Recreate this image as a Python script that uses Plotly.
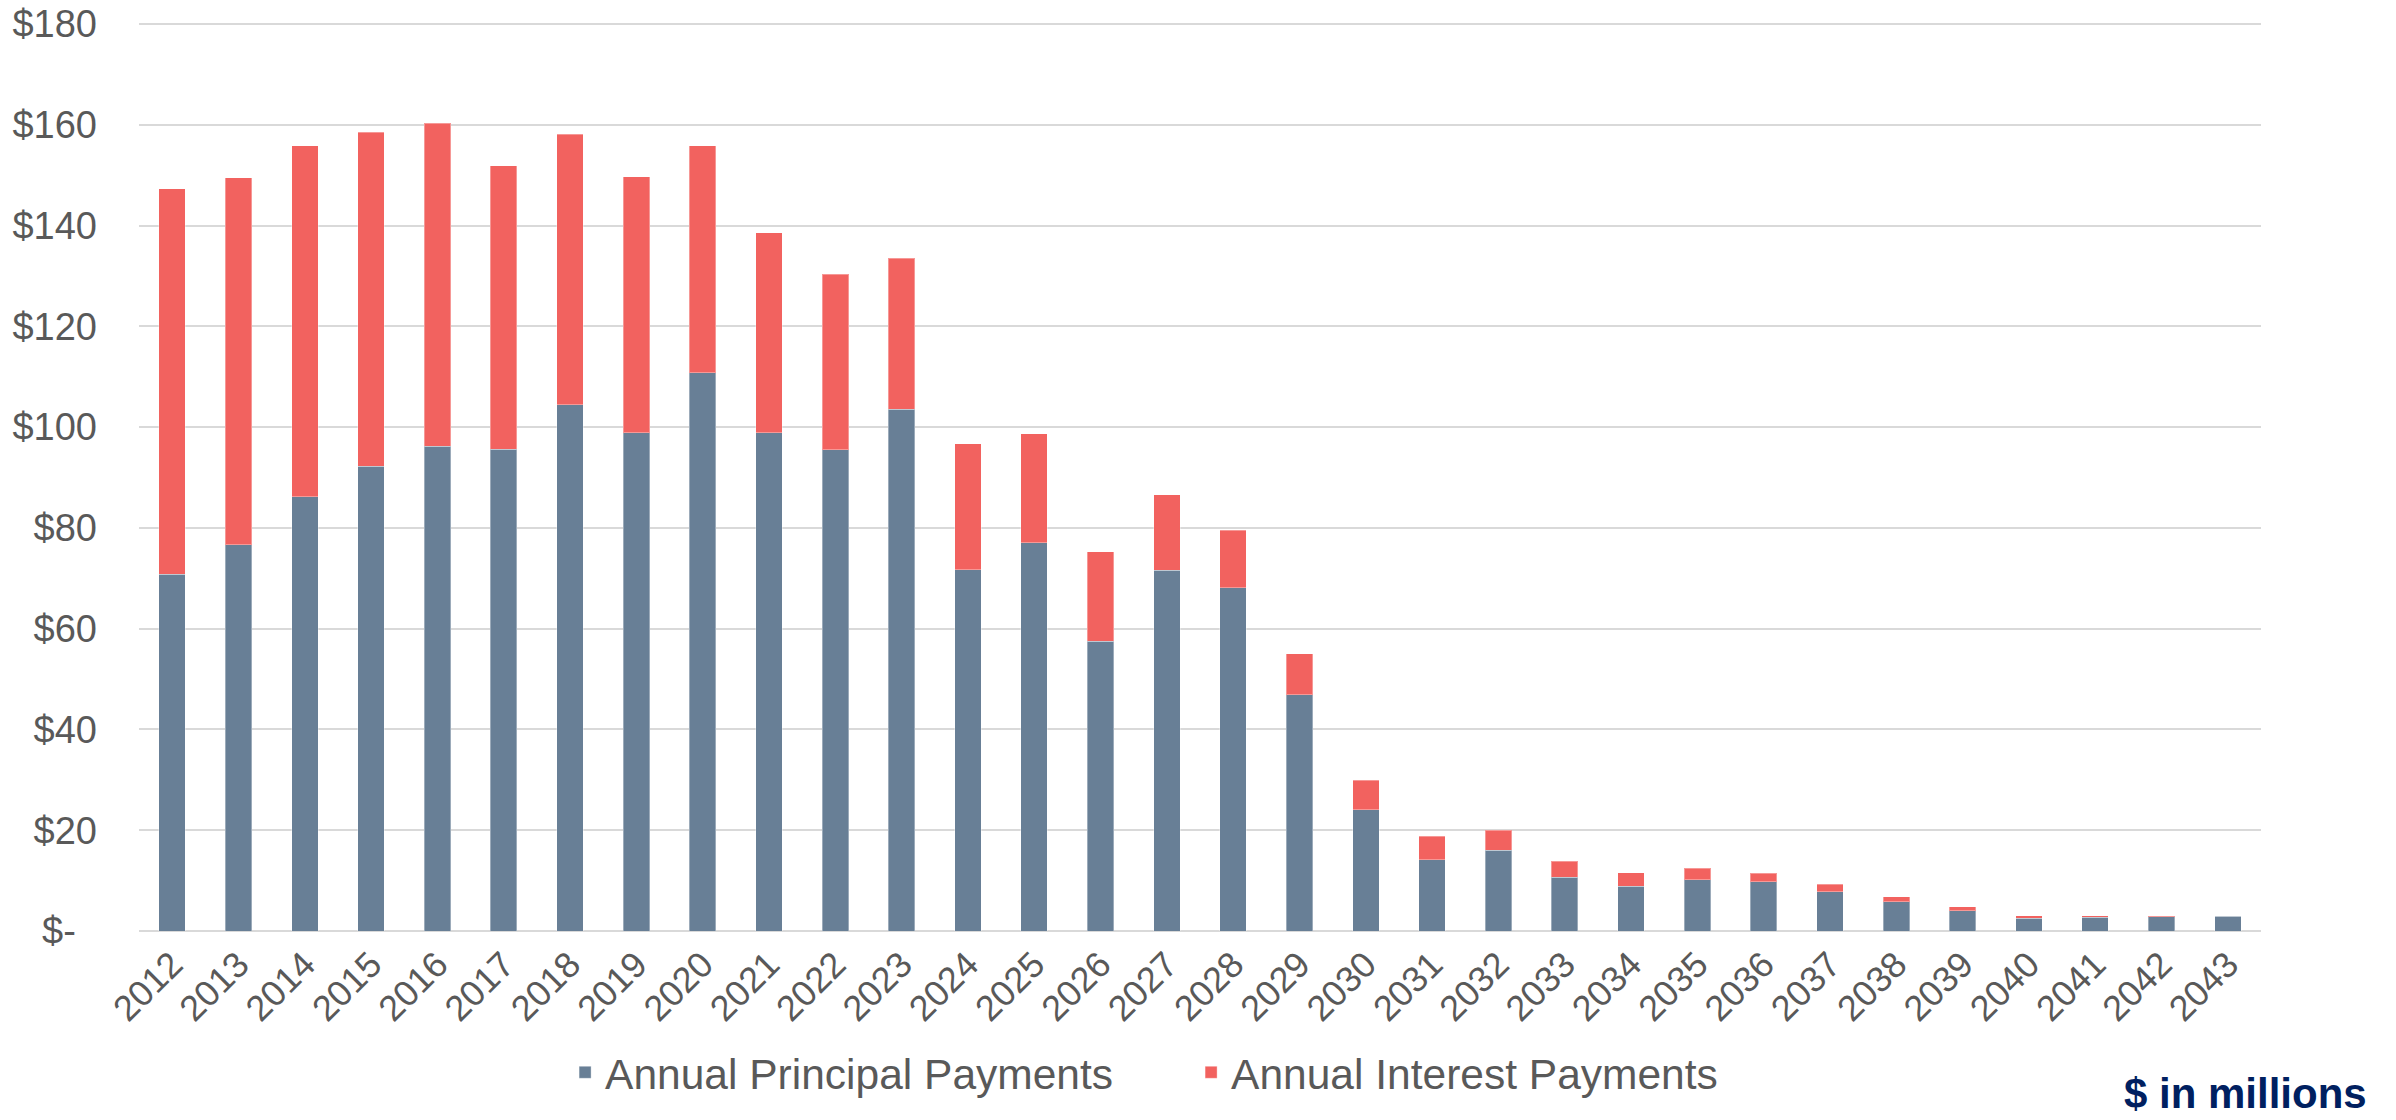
import plotly.graph_objects as go

years = [str(y) for y in range(2012, 2044)]
principal = [70.8, 76.7, 86.2, 92.2, 96.2, 95.6, 104.4, 98.9, 110.8, 98.9,
             95.5, 103.5, 71.7, 77.1, 57.5, 71.6, 68.1, 46.9, 24.1, 14.1,
             16.0, 10.7, 8.9, 10.2, 9.8, 7.8, 5.8, 4.0, 2.5, 2.7, 2.85, 2.9]
interest = [76.5, 72.8, 69.6, 66.3, 64.1, 56.3, 53.7, 50.8, 45.0, 39.7,
            34.8, 30.0, 25.0, 21.6, 17.8, 15.0, 11.4, 8.1, 5.8, 4.7,
            4.0, 3.1, 2.7, 2.3, 1.7, 1.5, 1.0, 0.8, 0.5, 0.3, 0.15, 0.1]
y_tickvals = [0, 20, 40, 60, 80, 100, 120, 140, 160, 180]
y_ticktext = ["$-\u00a0\u00a0", "$20", "$40", "$60", "$80", "$100", "$120", "$140", "$160", "$180"]

FONT = "Liberation Sans, Arial, sans-serif"
GRAY = "#595959"

fig = go.Figure()
fig.add_trace(go.Bar(
    x=years, y=principal, name="Annual Principal Payments",
    marker=dict(color="#687F96", line=dict(width=1, color="rgba(255,255,255,0.35)")),
))
fig.add_trace(go.Bar(
    x=years, y=interest, name="Annual Interest Payments",
    marker=dict(color="#F2625F", line=dict(width=1, color="rgba(255,255,255,0.35)")),
))

fig.update_layout(
    width=2396, height=1120,
    margin=dict(l=139, r=135, t=23, b=189, autoexpand=False),
    barmode="stack", bargap=0.6,
    plot_bgcolor="white", paper_bgcolor="white",
    font=dict(family=FONT, color=GRAY),
    legend=dict(
        orientation="h", x=0.2008, xanchor="left", y=-0.156, yanchor="middle",
        font=dict(size=42.5, color=GRAY, family=FONT),
        entrywidth=581, entrywidthmode="pixels",
        traceorder="normal",
    ),
    xaxis=dict(
        type="category", tickangle=-45, showgrid=False, showline=False,
        tickfont=dict(size=36, color=GRAY, family=FONT), ticks="",
        ticklabelstandoff=4, automargin=False,
    ),
    yaxis=dict(
        range=[0, 180.2], tickvals=y_tickvals, ticktext=y_ticktext,
        showgrid=True, gridcolor="#D9D9D9", gridwidth=1.5,
        zeroline=True, zerolinecolor="#D9D9D9", zerolinewidth=1.5,
        tickfont=dict(size=38, color=GRAY, family=FONT), ticks="",
        ticklabelstandoff=41, automargin=False,
    ),
    annotations=[dict(
        text="<b>$ in millions</b>", xref="paper", yref="paper",
        x=1.0510, y=-0.1785, xanchor="right", yanchor="middle",
        showarrow=False, font=dict(size=42, color="#002060", family=FONT),
    )],
)

fig.write_html("out.html", config={"displayModeBar": False},
               post_script="document.body.style.margin='0px';")
